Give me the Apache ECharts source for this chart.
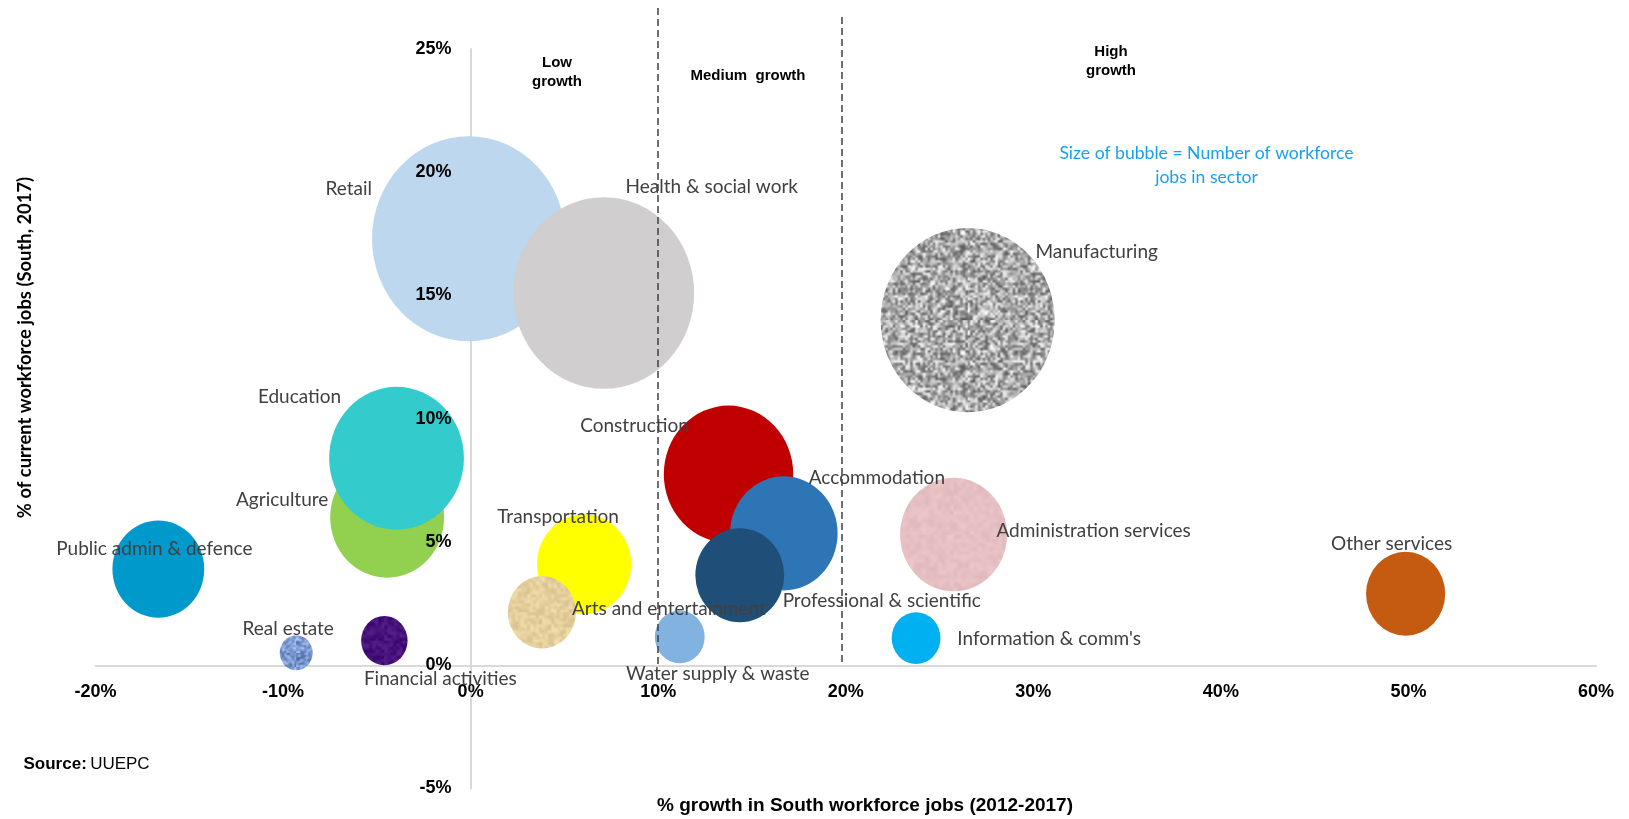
<!DOCTYPE html>
<html>
<head>
<meta charset="utf-8">
<script src="https://cdn.jsdelivr.net/npm/echarts@6/dist/echarts.min.js"></script>
<style>
html,body{margin:0;padding:0;background:#ffffff;}
#chart{width:1629px;height:819px;}
</style>
</head>
<body>
<div id="chart"></div>
<script>
// ---------------- DATA ----------------
const sectors = [
  "Retail", "Health & social work", "Manufacturing", "Agriculture", "Education",
  "Public admin & defence", "Real estate", "Financial activities", "Transportation",
  "Arts and entertainment", "Construction", "Accommodation", "Professional & scientific",
  "Water supply & waste", "Information & comm's", "Administration services", "Other services"
];
// % growth in South workforce jobs (2012-2017)
const growthPct = [-0.1, 7.1, 26.5, -4.45, -3.95, -16.65, -9.3, -4.6, 6.05, 3.8, 13.75, 16.7, 14.35, 11.15, 23.75, 25.75, 49.85];
// % of current workforce jobs (South, 2017) -- also drives bubble size (number of jobs)
const sharePct = [17.3, 15.1, 14.0, 6.0, 8.4, 3.9, 0.5, 1.0, 4.1, 2.15, 7.75, 5.35, 3.65, 1.15, 1.1, 5.3, 2.9];

const xTicks = [-20, -10, 0, 10, 20, 30, 40, 50, 60];
const yTicks = [-5, 0, 5, 10, 15, 20, 25];
const growthBands = [10, 19.8]; // dashed separators
const bandLabels = ["Low\ngrowth", "Medium  growth", "High\ngrowth"];

// ---------------- STYLE ----------------
const W = 1629, H = 819;
const grid = { left: 95.5, right: 33, top: 49, bottom: 30.5 };
const colors = {
  "Retail": "#BDD7EE", "Health & social work": "#D0CECE", "Manufacturing": "tex:mfg",
  "Agriculture": "#92D050", "Education": "#33CBCB", "Public admin & defence": "#0099CC",
  "Real estate": "tex:re", "Financial activities": "tex:fin", "Transportation": "#FFFF00",
  "Arts and entertainment": "tex:arts", "Construction": "#C00000", "Accommodation": "#2E75B6",
  "Professional & scientific": "#1F4E79", "Water supply & waste": "#82B2DF",
  "Information & comm's": "#00B0F0", "Administration services": "tex:adm", "Other services": "#C55A11"
};
const labelOffsets = {
  "Retail": [-120, -50], "Health & social work": [108, -106], "Manufacturing": [129, -68],
  "Agriculture": [-105, -17], "Education": [-97, -61], "Public admin & defence": [-4, -20],
  "Real estate": [-8, -24], "Financial activities": [56, 38], "Transportation": [-26, -47],
  "Arts and entertainment": [127, -3], "Construction": [-94, -48], "Accommodation": [93, -55],
  "Professional & scientific": [142, 26], "Water supply & waste": [38, 37],
  "Information & comm's": [133, 1], "Administration services": [140, -4], "Other services": [-14, -50]
};

const boldFont = '"Liberation Sans"';
const axisFS = 18, bandFS = 15, titleFS = 19;

function bubbleSize(share) {
  const w = 46.5 * Math.sqrt(share);
  return [w, w * 1.06];
}

// deterministic texture (style only)
function makeTextureCanvas(base, amp, seed, blob) {
  const n = Math.round(120 / blob);
  const small = document.createElement('canvas');
  small.width = n; small.height = n;
  const sctx = small.getContext('2d');
  let s = seed >>> 0;
  const rnd = () => { s = (s * 1664525 + 1013904223) >>> 0; return s / 4294967296; };
  for (let y = 0; y < n; y++) {
    for (let x = 0; x < n; x++) {
      const d = (rnd() - 0.5) * amp;
      const r = Math.max(0, Math.min(255, Math.round(base[0] + d)));
      const g = Math.max(0, Math.min(255, Math.round(base[1] + d)));
      const b = Math.max(0, Math.min(255, Math.round(base[2] + d)));
      sctx.fillStyle = 'rgb(' + r + ',' + g + ',' + b + ')';
      sctx.fillRect(x, y, 1, 1);
    }
  }
  const cv = document.createElement('canvas');
  cv.width = n * blob; cv.height = n * blob;
  const ctx = cv.getContext('2d');
  ctx.imageSmoothingEnabled = true;
  ctx.drawImage(small, 0, 0, cv.width, cv.height);
  return cv;
}
const textures = {
  mfg: makeTextureCanvas([172, 172, 172], 170, 7, 2.5),
  re: makeTextureCanvas([125, 155, 210], 100, 11, 2),
  fin: makeTextureCanvas([72, 18, 125], 35, 13, 3),
  arts: makeTextureCanvas([230, 208, 158], 30, 17, 3),
  adm: makeTextureCanvas([230, 192, 195], 16, 19, 4)
};
function fillOf(name, share) {
  const c = colors[name];
  if (c.indexOf('tex:') !== 0) return c;
  const sz = bubbleSize(share);
  // symbol paths are drawn in a 2x2 unit box scaled to the bubble; undo that for the pattern
  return { image: textures[c.slice(4)], repeat: 'repeat', scaleX: 2 / sz[0], scaleY: 2 / sz[1] };
}

const seriesData = sectors.map((name, i) => ({
  name: name,
  value: [growthPct[i], sharePct[i]],
  itemStyle: { color: fillOf(name, sharePct[i]), opacity: 1 },
  label: { offset: labelOffsets[name] }
}));

// axes cross at zero: shift each axis from its grid edge to the zero position
const gridW = W - grid.left - grid.right, gridH = H - grid.top - grid.bottom;
const xMin = xTicks[0], xMax = xTicks[xTicks.length - 1];
const yMin = yTicks[0], yMax = yTicks[yTicks.length - 1];
const xAxisOffset = -gridH * (0 - yMin) / (yMax - yMin);
const yAxisOffset = -gridW * (0 - xMin) / (xMax - xMin);

const chart = echarts.init(document.getElementById('chart'), null, { renderer: 'canvas' });
const labelFont = 'Lato';
const axisLineStyle = { color: '#D9D9D9', width: 2 };
const axisLabelStyle = { formatter: v => v + '%', color: '#000', fontFamily: boldFont, fontWeight: 'bold', fontSize: axisFS };

chart.setOption({
  animation: false,
  backgroundColor: '#ffffff',
  grid: { left: grid.left, right: grid.right, top: grid.top, bottom: grid.bottom, containLabel: false },
  xAxis: {
    type: 'value', position: 'bottom', offset: xAxisOffset,
    min: xMin, max: xMax, interval: xTicks[1] - xTicks[0],
    axisLine: { show: true, onZero: false, lineStyle: axisLineStyle },
    axisTick: { show: false },
    splitLine: { show: false },
    axisLabel: Object.assign({ margin: 18 }, axisLabelStyle)
  },
  yAxis: [{
    // axis line (behind bubbles)
    type: 'value', position: 'left', offset: yAxisOffset,
    min: yMin, max: yMax, interval: yTicks[1] - yTicks[0],
    axisLine: { show: true, onZero: false, lineStyle: axisLineStyle },
    axisTick: { show: false },
    splitLine: { show: false },
    axisLabel: { show: false }
  }, {
    // tick labels (on top of bubbles)
    type: 'value', position: 'left', offset: yAxisOffset, z: 20,
    min: yMin, max: yMax, interval: yTicks[1] - yTicks[0],
    axisLine: { show: false, onZero: false },
    axisTick: { show: false },
    splitLine: { show: false },
    axisLabel: Object.assign({ margin: 19 }, axisLabelStyle)
  }],
  series: [{
    type: 'scatter',
    yAxisIndex: 0,
    clip: false,
    data: seriesData,
    symbol: 'circle',
    symbolSize: (val) => bubbleSize(val[1]),
    label: {
      show: true, position: 'inside', formatter: p => p.name,
      color: '#404040', fontFamily: labelFont, fontSize: 19, align: 'center', verticalAlign: 'middle'
    },
    emphasis: { disabled: true },
    silent: true,
    markLine: {
      silent: true, symbol: ['none', 'none'], animation: false,
      label: { show: false },
      lineStyle: { color: '#404040', type: [7, 4], width: 1.5 },
      data: [
        [{ xAxis: growthBands[0], yAxis: yMax, y: 8 }, { xAxis: growthBands[0], yAxis: 0 }],
        [{ xAxis: growthBands[1], yAxis: yMax, y: 17 }, { xAxis: growthBands[1], yAxis: 0 }]
      ]
    }
  }],
  graphic: [
    { type: 'text', x: 557, y: 53, style: { text: bandLabels[0], align: 'center', verticalAlign: 'top', fontFamily: boldFont, fontWeight: 'bold', fontSize: bandFS, lineHeight: 19, fill: '#000' } },
    { type: 'text', x: 748, y: 75.5, style: { text: bandLabels[1], align: 'center', verticalAlign: 'middle', fontFamily: boldFont, fontWeight: 'bold', fontSize: bandFS, fill: '#000' } },
    { type: 'text', x: 1111, y: 42, style: { text: bandLabels[2], align: 'center', verticalAlign: 'top', fontFamily: boldFont, fontWeight: 'bold', fontSize: bandFS, lineHeight: 19, fill: '#000' } },
    { type: 'text', x: 1206.5, y: 141, style: { text: 'Size of bubble = Number of workforce\njobs in sector', align: 'center', verticalAlign: 'top', fontFamily: labelFont, fontSize: 17.6, lineHeight: 24, fill: '#1A9FF0' } },
    { type: 'text', x: 25, y: 347.5, rotation: Math.PI / 2, style: { text: '% of current workforce jobs (South, 2017)', align: 'center', verticalAlign: 'middle', fontFamily: 'Lato', fontWeight: 'bold', fontSize: 18.4, fill: '#000' } },
    { type: 'text', x: 865, y: 806, style: { text: '% growth in South workforce jobs (2012-2017)', align: 'center', verticalAlign: 'middle', fontFamily: boldFont, fontWeight: 'bold', fontSize: titleFS, fill: '#000' } },
    { type: 'text', x: 23.5, y: 764, style: { text: '{b|Source:} {n|UUEPC}', align: 'left', verticalAlign: 'middle', rich: {
        b: { fontFamily: boldFont, fontWeight: 'bold', fontSize: 17, fill: '#000', color: '#000' },
        n: { fontFamily: boldFont, fontSize: 17, fill: '#000', color: '#000' } } } }
  ]
});
</script>
</body>
</html>
